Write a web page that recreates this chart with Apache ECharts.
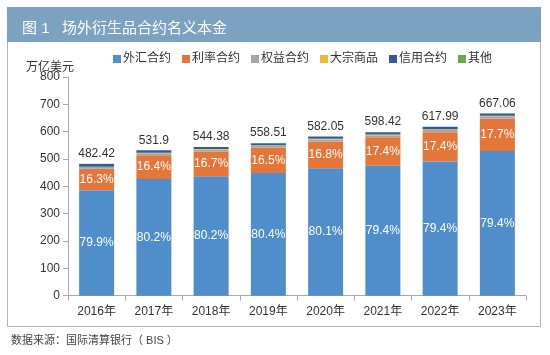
<!DOCTYPE html>
<html><head><meta charset="utf-8">
<script src="https://cdn.jsdelivr.net/npm/echarts@6/dist/echarts.min.js"></script>
<style>html,body{margin:0;padding:0;background:#fff}#c{width:550px;height:355px}</style>
</head><body><div id="c"></div>
<script>
const categories = ['2016年','2017年','2018年','2019年','2020年','2021年','2022年','2023年'];
const totals = [482.42, 531.9, 544.38, 558.51, 582.05, 598.42, 617.99, 667.06];
const fxPct = [79.9, 80.2, 80.2, 80.4, 80.1, 79.4, 79.4, 79.4];
const irPct = [16.3, 16.4, 16.7, 16.5, 16.8, 17.4, 17.4, 17.7];
const fx = [385.45, 426.58, 436.59, 449.04, 466.22, 475.15, 490.68, 529.65];
const ir = [78.63, 87.23, 90.91, 92.15, 97.78, 104.13, 107.53, 118.07];
const equity = [6.6, 7.0, 6.8, 7.2, 7.6, 8.0, 8.2, 8.5];
const commodity = [1.4, 1.9, 2.1, 2.1, 2.2, 2.4, 2.6, 2.2];
const credit = [9.9, 9.0, 7.9, 7.6, 8.2, 8.6, 8.9, 8.5];
const other = [0.44, 0.19, 0.08, 0.42, 0.05, 0.14, 0.08, 0.14];
const yTicks = [0, 100, 200, 300, 400, 500, 600, 700, 800];
const seriesNames = ['外汇合约','利率合约','权益合约','大宗商品','信用合约','其他'];

const FONT = "'Liberation Sans', 'Noto Sans CJK SC', sans-serif";
const chart = echarts.init(document.getElementById('c'));
const colors = ['#4F8ECB','#E4763A','#A5A5A5','#F2B631','#2F5C9C','#6AAA4F'];
const inLabel = pcts => ({show:true, position:'inside', color:'#fff', fontSize:12, fontFamily:FONT,
  formatter: p => pcts[p.dataIndex].toFixed(1) + '%'});
chart.setOption({
  animation:false,
  color: colors,
  graphic: [
    {type:'rect', shape:{x:7.5,y:7.5,width:533,height:319}, style:{fill:'#fff', stroke:'#b4b4b4', lineWidth:1}, z:-10},
    {type:'rect', shape:{x:7,y:7,width:534,height:35}, style:{fill:'#7BA3C1'}, z:-9}
  ],
  title: [
    {text:'图 1   场外衍生品合约名义本金', left:17, top:16, textStyle:{color:'#fff', fontSize:15, fontWeight:'normal', fontFamily:FONT}},
    {text:'万亿美元', left:21, top:57, textStyle:{color:'#333', fontSize:12, fontWeight:'normal', fontFamily:FONT}},
    {text:'数据来源：国际清算银行（ BIS ）', left:6, top:330, textStyle:{color:'#444', fontSize:11, fontWeight:'normal', fontFamily:FONT}}
  ],
  legend: {
    data: seriesNames, left:108, top:48, itemWidth:8, itemHeight:8, itemGap:11,
    icon:'rect', textStyle:{color:'#333', fontSize:12, fontFamily:FONT, padding:[0,0,0,-3]}
  },
  grid: {left:68, right:24, top:77, bottom:59.3},
  xAxis: {
    type:'category', data:categories,
    axisLine:{lineStyle:{color:'#aaa'}},
    axisTick:{show:true, inside:false, length:5, lineStyle:{color:'#aaa'}},
    axisLabel:{color:'#333', fontSize:12, fontFamily:FONT, margin:10}
  },
  yAxis: {
    type:'value', min:yTicks[0], max:yTicks[yTicks.length-1], interval:100,
    axisLine:{show:true, lineStyle:{color:'#aaa'}},
    axisTick:{show:true, length:5, lineStyle:{color:'#aaa'}},
    splitLine:{show:false},
    axisLabel:{color:'#333', fontSize:12, fontFamily:FONT, margin:8}
  },
  series: [
    {name:seriesNames[0], type:'bar', stack:'a', barWidth:35, data:fx, label:inLabel(fxPct)},
    {name:seriesNames[1], type:'bar', stack:'a', data:ir, label:inLabel(irPct)},
    {name:seriesNames[2], type:'bar', stack:'a', data:equity},
    {name:seriesNames[3], type:'bar', stack:'a', data:commodity},
    {name:seriesNames[4], type:'bar', stack:'a', data:credit},
    {name:seriesNames[5], type:'bar', stack:'a', data:other,
      label:{show:true, position:'top', distance:4, color:'#333', fontSize:12, fontFamily:FONT,
        formatter: p => String(totals[p.dataIndex])}}
  ]
});
</script></body></html>
